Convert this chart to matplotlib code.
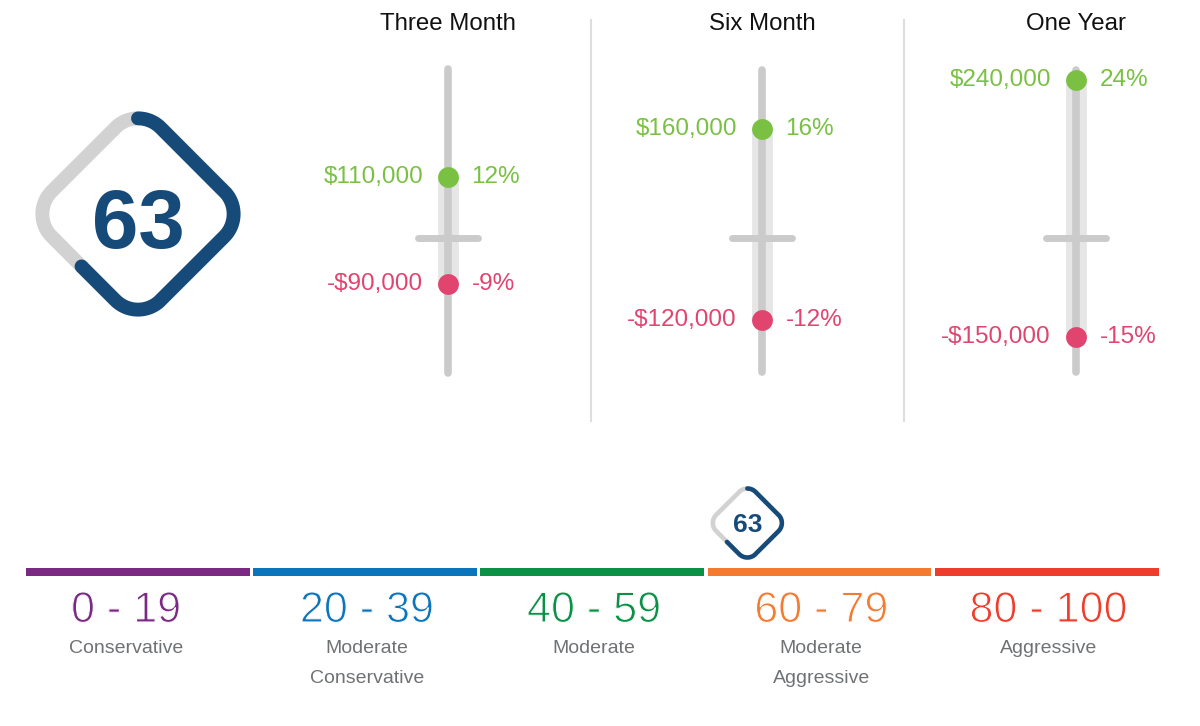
import numpy as np
import matplotlib
matplotlib.use('Agg')
import matplotlib.pyplot as plt
from matplotlib.lines import Line2D
import matplotlib.patheffects as pe

plt.rcParams['font.family'] = ['Liberation Sans', 'DejaVu Sans']

# ---------------- data ----------------
score = 63
horizons = ['Three Month', 'Six Month', 'One Year']
gain_pct = [12, 16, 24]
loss_pct = [-9, -12, -15]
gain_usd = ['$110,000', '$160,000', '$240,000']
loss_usd = ['-$90,000', '-$120,000', '-$150,000']

range_labels = ['0 - 19', '20 - 39', '40 - 59', '60 - 79', '80 - 100']
range_lo = [0, 20, 40, 60, 80]
range_hi = [20, 40, 60, 80, 100]
profile_names = ['Conservative', 'Moderate\nConservative', 'Moderate',
                 'Moderate\nAggressive', 'Aggressive']

# ---------------- style ----------------
range_colors = ['#7B2A83', '#0B75BC', '#0A9146', '#F37A2F', '#EE3D2C']
NAVY = '#164A79'
RING_GRAY = '#D2D2D2'
GREEN = '#7AC143'
PINK = '#E0446F'
TRACK = '#CBCBCB'
BAND = '#E6E6E6'
LABEL_GRAY = '#6F7275'

W, H = 1200, 726
fig = plt.figure(figsize=(12, 7.26), dpi=100)
fig.patch.set_facecolor('white')


def box(left, top, width, height):
    return [left / W, 1 - (top + height) / H, width / W, height / H]


def diamond_path(a, r):
    c = a - r

    def arc(cx, cy, t0, t1):
        t = np.radians(np.linspace(t0, t1, 80))
        return np.column_stack([cx + r * np.cos(t), cy + r * np.sin(t)])

    def seg(p0, p1):
        return np.linspace(p0, p1, 80)

    parts = [arc(c, c, 45, 0), seg((a, c), (a, -c)), arc(c, -c, 0, -90),
             seg((c, -a), (-c, -a)), arc(-c, -c, -90, -180),
             seg((-a, -c), (-a, c)), arc(-c, c, 180, 90),
             seg((-c, a), (c, a)), arc(c, c, 90, 45)]
    P = np.vstack(parts)
    th = np.radians(45)
    R = np.array([[np.cos(th), -np.sin(th)], [np.sin(th), np.cos(th)]])
    P = P @ R.T
    d = np.r_[0, np.cumsum(np.hypot(*np.diff(P, axis=0).T))]
    return P, d / d[-1]


def draw_diamond(ax, value, lw, fontsize, baseline):
    P, f = diamond_path(77, 32)
    k = int(np.searchsorted(f, value / 100))
    ax.plot(P[k:, 0], P[k:, 1], color=RING_GRAY, lw=lw, solid_capstyle='round')
    ax.plot(P[:k + 1, 0], P[:k + 1, 1], color=NAVY, lw=lw, solid_capstyle='round')
    ax.text(0, baseline, str(value), ha='center', va='baseline',
            fontsize=fontsize, fontweight='bold', color=NAVY)
    ax.set_xlim(-115, 115)
    ax.set_ylim(-115, 115)
    ax.set_aspect('equal')
    ax.axis('off')


# ---------------- big diamond ----------------
ax_d = fig.add_axes(box(23, 99, 230, 230))
draw_diamond(ax_d, score, lw=10, fontsize=60, baseline=-34)

# ---------------- sliders ----------------
track_x = [448, 762, 1076]
px_per_pct = [5.1, 6.8, 6.6]
track_top, track_bot, zero_px = 67, 375, 238

for i, name in enumerate(horizons):
    tx = track_x[i]
    k = px_per_pct[i]
    ax = fig.add_axes(box(tx - 110, track_top, 220, track_bot - track_top))
    ylo, yhi = -(track_bot - zero_px) / k, (zero_px - track_top) / k
    ax.set_xlim(-110, 110)
    ax.set_ylim(ylo, yhi)
    ax.axis('off')
    ax.plot([0, 0], [loss_pct[i], gain_pct[i]], color=BAND, lw=15,
            solid_capstyle='butt', zorder=1)
    ax.plot([0, 0], [ylo + 0.4, yhi - 0.4], color=TRACK, lw=5.5,
            solid_capstyle='round', zorder=2, clip_on=False)
    ax.plot([-30, 30], [0, 0], color=TRACK, lw=5, solid_capstyle='round', zorder=2)
    ax.plot([0], [gain_pct[i]], 'o', ms=15, color=GREEN, mec='none', zorder=3)
    ax.plot([0], [loss_pct[i]], 'o', ms=15, color=PINK, mec='none', zorder=3)
    ax.annotate(gain_usd[i], (0, gain_pct[i]), xytext=(-18, 0),
                textcoords='offset points', ha='right', va='center',
                fontsize=17.5, color=GREEN)
    ax.annotate(f'{gain_pct[i]}%', (0, gain_pct[i]), xytext=(17, 0),
                textcoords='offset points', ha='left', va='center',
                fontsize=17.5, color=GREEN)
    ax.annotate(loss_usd[i], (0, loss_pct[i]), xytext=(-18, 0),
                textcoords='offset points', ha='right', va='center',
                fontsize=17.5, color=PINK)
    ax.annotate(f'{loss_pct[i]}%', (0, loss_pct[i]), xytext=(17, 0),
                textcoords='offset points', ha='left', va='center',
                fontsize=17.5, color=PINK)
    fig.text(tx / W, 1 - 24 / H, name, ha='center', va='center',
             fontsize=17.3, color='#111111')

for sx in [591, 904]:
    fig.add_artist(Line2D([sx / W, sx / W], [1 - 20 / H, 1 - 421 / H],
                          color='#DEDEDE', lw=1.5))

# ---------------- risk scale ----------------
axb = fig.add_axes(box(26, 470, 1136, 230))
axb.set_xlim(0, 100)
axb.set_ylim(700, 470)
axb.axis('off')
widths = [hi - lo - 0.3 for lo, hi in zip(range_lo, range_hi)]
axb.barh([572] * 5, widths, left=range_lo, height=8, color=range_colors)

thin = [pe.Normal(), pe.Stroke(linewidth=0.8, foreground='white')]
label_shift = [-1.2, 0, 0, 0, 0]
for i in range(5):
    cx = (range_lo[i] + range_hi[i]) / 2 + label_shift[i]
    axb.text(cx, 611, range_labels[i], ha='center', va='center', fontsize=31,
             color=range_colors[i], path_effects=thin)
    axb.text(cx, 640, profile_names[i], ha='center', va='top', fontsize=14,
             color=LABEL_GRAY, linespacing=2.0)

# small diamond marker at the score position (centre of the score's unit cell)
disp = axb.transData.transform((score + 0.5, 523))
fx, fy = fig.transFigure.inverted().transform(disp)
sw = 83
ax_s = fig.add_axes([fx - sw / 2 / W, fy - sw / 2 / H, sw / W, sw / H])
draw_diamond(ax_s, score, lw=3.3, fontsize=19, baseline=-25)

fig.savefig('out.png', dpi=100, facecolor='white')
